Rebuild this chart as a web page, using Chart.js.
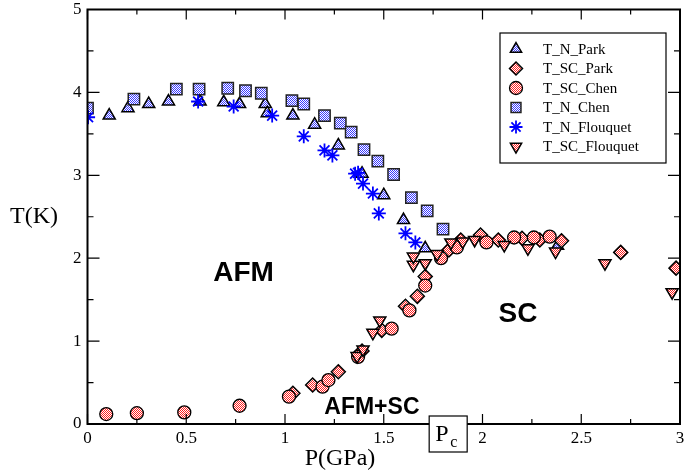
<!DOCTYPE html>
<html>
<head>
<meta charset="utf-8">
<script src="https://cdn.jsdelivr.net/npm/chart.js@4.4.1/dist/chart.umd.min.js"></script>
<style>
  html, body { margin: 0; padding: 0; background: #fff; }
  #wrap { width: 699px; height: 473px; position: relative; }
</style>
</head>
<body>
<div id="wrap"><canvas id="phase"></canvas></div>
<script>
// P (GPa), T (K)
const tnParkP = [0.11, 0.205, 0.31, 0.41, 0.57, 0.69, 0.77, 0.9, 0.91, 1.04, 1.15, 1.27, 1.39, 1.5, 1.6, 1.71, 2.38];
const tnParkT = [3.72, 3.81, 3.86, 3.89, 3.89, 3.88, 3.86, 3.86, 3.75, 3.72, 3.61, 3.36, 3.02, 2.76, 2.46, 2.12, 2.15];

const tscParkP = [1.04, 1.14, 1.27, 1.39, 1.49, 1.61, 1.67, 1.71, 1.83, 1.89, 1.99, 2.08, 2.2, 2.29, 2.4, 2.7, 2.98];
const tscParkT = [0.37, 0.47, 0.63, 0.88, 1.13, 1.42, 1.54, 1.78, 2.1, 2.22, 2.28, 2.22, 2.24, 2.22, 2.21, 2.07, 1.88];

const tscChenP = [0.095, 0.25, 0.49, 0.77, 1.02, 1.19, 1.22, 1.37, 1.54, 1.63, 1.71, 1.79, 1.87, 2.02, 2.16, 2.26, 2.34];
const tscChenT = [0.12, 0.13, 0.14, 0.22, 0.33, 0.45, 0.53, 0.81, 1.15, 1.37, 1.67, 2.0, 2.13, 2.19, 2.25, 2.25, 2.26];

const tnChenP = [0.0, 0.235, 0.45, 0.565, 0.71, 0.8, 0.88, 1.035, 1.095, 1.2, 1.28, 1.335, 1.4, 1.47, 1.55, 1.64, 1.72, 1.8];
const tnChenT = [3.81, 3.92, 4.04, 4.04, 4.05, 4.02, 3.99, 3.9, 3.86, 3.72, 3.63, 3.52, 3.31, 3.17, 3.01, 2.73, 2.57, 2.35];

const tnFlouP = [0.003, 0.56, 0.74, 0.935, 1.095, 1.2, 1.24, 1.355, 1.37, 1.395, 1.445, 1.475, 1.61, 1.66];
const tnFlouT = [3.7, 3.89, 3.83, 3.72, 3.47, 3.3, 3.24, 3.02, 3.03, 2.9, 2.78, 2.54, 2.3, 2.19];

const tscFlouP = [1.365, 1.395, 1.445, 1.48, 1.65, 1.65, 1.71, 1.77, 1.84, 1.9, 1.96, 2.11, 2.23, 2.37, 2.62, 2.96];
const tscFlouT = [0.82, 0.9, 1.1, 1.25, 1.92, 2.02, 1.94, 2.05, 2.19, 2.2, 2.22, 2.16, 2.12, 2.08, 1.94, 1.59];

const xTicks = [0, 0.5, 1, 1.5, 2, 2.5, 3];
const yTicks = [0, 1, 2, 3, 4, 5];
const seriesNames = ["T_N_Park", "T_SC_Park", "T_SC_Chen", "T_N_Chen", "T_N_Flouquet", "T_SC_Flouquet"];

function checker(color) {
  const c = document.createElement("canvas");
  c.width = 2; c.height = 2;
  const g = c.getContext("2d");
  g.fillStyle = "#ffffff"; g.fillRect(0, 0, 2, 2);
  g.fillStyle = color; g.fillRect(0, 0, 1, 1); g.fillRect(1, 1, 1, 1);
  return g.createPattern(c, "repeat");
}
const blueFill = checker("#3a3aff");
const redFill = checker("#ff2020");

const pts = (xs, ys) => xs.map((x, i) => ({ x, y: ys[i] }));
const serif = "'Liberation Serif', 'DejaVu Serif', serif";
const sans = "'Liberation Sans', Arial, sans-serif";

const sets = [
  { data: pts(tnParkP, tnParkT), pointStyle: "triangle", pointRadius: 7, backgroundColor: blueFill, borderColor: "#000", borderWidth: 1.5 },
  { data: pts(tscParkP, tscParkT), pointStyle: "rectRot", pointRadius: 7, backgroundColor: redFill, borderColor: "#000", borderWidth: 1.5 },
  { data: pts(tscChenP, tscChenT), pointStyle: "circle", pointRadius: 6.5, backgroundColor: redFill, borderColor: "#000", borderWidth: 1.3 },
  { data: pts(tnChenP, tnChenT), pointStyle: "rect", pointRadius: 8, backgroundColor: blueFill, borderColor: "#222", borderWidth: 1.5 },
  { data: pts(tnFlouP, tnFlouT), pointStyle: "star", pointRadius: 7, backgroundColor: "#0000ff", borderColor: "#0000ff", borderWidth: 1.8 },
  { data: pts(tscFlouP, tscFlouT), pointStyle: "triangle", rotation: 180, pointRadius: 7, backgroundColor: redFill, borderColor: "#000", borderWidth: 1.5 },
].map((s, i) => Object.assign({ label: seriesNames[i], showLine: false, order: 6 - i, pointHoverRadius: s.pointRadius }, s));

const decor = {
  id: "decor",
  afterDraw(chart) {
    const { ctx, chartArea: a, scales: { x, y } } = chart;
    ctx.save();
    // frame
    ctx.strokeStyle = "#000"; ctx.lineWidth = 2;
    ctx.strokeRect(a.left, a.top, a.right - a.left, a.bottom - a.top);
    // inward ticks on all sides
    ctx.lineWidth = 1.2;
    for (let v = 0; v <= 3.0001; v += 0.25) {
      const px = x.getPixelForValue(v);
      const len = Math.abs(v * 2 - Math.round(v * 2)) < 1e-6 ? 10 : 5;
      ctx.beginPath();
      ctx.moveTo(px, a.bottom); ctx.lineTo(px, a.bottom - len);
      ctx.moveTo(px, a.top); ctx.lineTo(px, a.top + len);
      ctx.stroke();
    }
    for (let v = 0; v <= 5.0001; v += 0.5) {
      const py = y.getPixelForValue(v);
      const len = Math.abs(v - Math.round(v)) < 1e-6 ? 12 : 6;
      ctx.beginPath();
      ctx.moveTo(a.left, py); ctx.lineTo(a.left + len, py);
      ctx.moveTo(a.right, py); ctx.lineTo(a.right - len, py);
      ctx.stroke();
    }
    // axis titles
    ctx.fillStyle = "#000";
    ctx.font = "24px " + serif;
    ctx.textAlign = "center"; ctx.textBaseline = "middle";
    ctx.fillText("T(K)", 34, 217);
    ctx.fillText("P(GPa)", 340, 459);
    // region labels
    ctx.font = "bold 28px " + sans;
    ctx.fillText("AFM", x.getPixelForValue(0.79), y.getPixelForValue(1.82));
    ctx.fillText("SC", x.getPixelForValue(2.18), y.getPixelForValue(1.32));
    ctx.font = "bold 23px " + sans;
    ctx.fillText("AFM+SC", x.getPixelForValue(1.44), y.getPixelForValue(0.2));
    // Pc box
    const bx = x.getPixelForValue(1.73), by = a.bottom - 8;
    ctx.fillStyle = "#fff";
    ctx.fillRect(bx, by, 38, 36);
    ctx.strokeStyle = "#000"; ctx.lineWidth = 1.2;
    ctx.strokeRect(bx, by, 38, 36);
    ctx.fillStyle = "#000";
    ctx.textAlign = "left"; ctx.textBaseline = "alphabetic";
    ctx.font = "24px " + serif;
    ctx.fillText("P", bx + 6, by + 25);
    ctx.font = "16px " + serif;
    ctx.fillText("c", bx + 21, by + 31);
    // legend
    const lx = 500, ly = 33, lw = 166, lh = 130;
    ctx.fillStyle = "#fff"; ctx.fillRect(lx, ly, lw, lh);
    ctx.strokeStyle = "#000"; ctx.lineWidth = 1.2;
    ctx.strokeRect(lx, ly, lw, lh);
    ctx.font = "15px " + serif;
    ctx.textBaseline = "middle";
    chart.data.datasets.forEach((ds, i) => {
      const cy = ly + 16 + i * 19.5;
      ctx.fillStyle = ds.backgroundColor; ctx.strokeStyle = ds.borderColor;
      ctx.lineWidth = ds.borderWidth;
      Chart.helpers.drawPoint(ctx, {
        pointStyle: ds.pointStyle, radius: ds.pointStyle === "rect" ? 7 : 6.5,
        rotation: ds.rotation || 0, borderWidth: ds.borderWidth
      }, lx + 16, cy);
      ctx.fillStyle = "#000";
      ctx.fillText(ds.label, lx + 43, cy + 1);
    });
    ctx.restore();
  }
};

new Chart(document.getElementById("phase"), {
  type: "scatter",
  data: { datasets: sets },
  options: {
    responsive: true,
    maintainAspectRatio: false,
    animation: false,
    layout: { padding: { top: 9, right: 19, left: 0, bottom: 0 } },
    plugins: { legend: { display: false }, tooltip: { enabled: false } },
    scales: {
      x: {
        type: "linear", min: 0, max: 3,
        afterBuildTicks: (s) => { s.ticks = xTicks.map((v) => ({ value: v })); },
        afterFit: (s) => { s.height = 49; s.paddingLeft = 0; s.paddingRight = 0; },
        grid: { display: false, drawTicks: false },
        border: { display: false },
        ticks: { color: "#000", padding: 4, maxRotation: 0, font: { family: serif, size: 17 },
                 callback: (v) => String(v) }
      },
      y: {
        type: "linear", min: 0, max: 5,
        afterBuildTicks: (s) => { s.ticks = yTicks.map((v) => ({ value: v })); },
        afterFit: (s) => { s.width = 87.5; s.paddingTop = 0; s.paddingBottom = 0; },
        grid: { display: false, drawTicks: false },
        border: { display: false },
        ticks: { color: "#000", padding: 6, font: { family: serif, size: 17 } }
      }
    }
  },
  plugins: [decor]
});
</script>
</body>
</html>
